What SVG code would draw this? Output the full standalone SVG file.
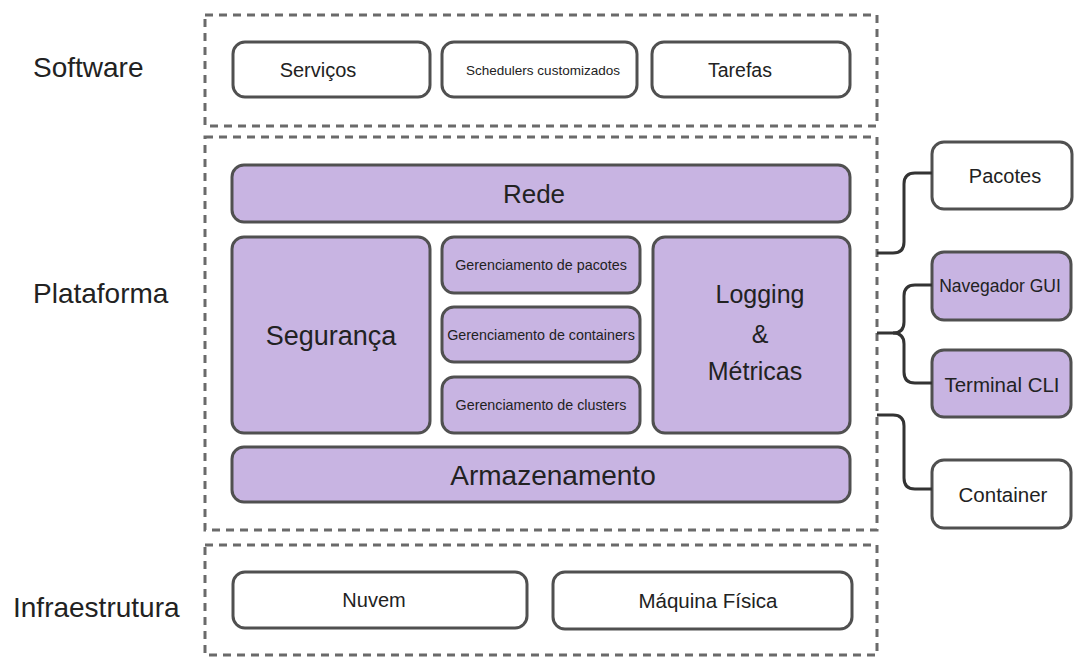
<svg xmlns="http://www.w3.org/2000/svg" width="1078" height="658" viewBox="0 0 1078 658">
<style>
.bg{fill:#ffffff}
.layer{fill:none;stroke:#6a6a6a;stroke-width:3;stroke-dasharray:8 6}
.w{fill:#ffffff;stroke:#505050;stroke-width:3}
.p{fill:#c8b4e2;stroke:#505050;stroke-width:3}
text{font-family:"Liberation Sans",Arial,sans-serif;fill:#222;text-anchor:middle;dominant-baseline:central}
.lbl{text-anchor:start;dominant-baseline:alphabetic;font-size:28px}
.conn{fill:none;stroke:#333;stroke-width:3;stroke-linejoin:round}
</style>
<rect class="bg" x="0" y="0" width="1078" height="658"/>
<g id="layers">
<rect class="layer" x="205" y="15" width="672" height="111"/>
<rect class="layer" x="205" y="137" width="672" height="393"/>
<rect class="layer" x="205" y="545" width="672" height="110"/>
</g>
<g id="labels">
<text class="lbl" x="33" y="77">Software</text>
<text class="lbl" x="33" y="303">Plataforma</text>
<text class="lbl" x="13" y="617">Infraestrutura</text>
</g>
<g id="servicos"><rect class="w" x="233" y="42" width="197" height="55" rx="12"/><text x="318" y="70" font-size="20">Serviços</text></g>
<g id="schedulers"><rect class="w" x="442" y="42" width="195" height="55" rx="12"/><text x="543" y="70" font-size="13.5">Schedulers customizados</text></g>
<g id="tarefas"><rect class="w" x="652" y="42" width="198" height="55" rx="12"/><text x="740" y="70" font-size="19.5">Tarefas</text></g>
<g id="rede"><rect class="p" x="232" y="165" width="618" height="57" rx="12"/><text x="534" y="194" font-size="26">Rede</text></g>
<g id="seguranca"><rect class="p" x="232" y="237" width="198" height="196" rx="12"/><text x="331" y="336" font-size="27">Segurança</text></g>
<g id="ger-pacotes"><rect class="p" x="442" y="237" width="198" height="56" rx="12"/><text x="541" y="265" font-size="14.3">Gerenciamento de pacotes</text></g>
<g id="ger-containers"><rect class="p" x="442" y="307" width="198" height="55" rx="12"/><text x="541" y="335" font-size="14.3">Gerenciamento de containers</text></g>
<g id="ger-clusters"><rect class="p" x="442" y="377" width="198" height="56" rx="12"/><text x="541" y="405" font-size="14.3">Gerenciamento de clusters</text></g>
<g id="logging"><rect class="p" x="653" y="237" width="197" height="196" rx="12"/>
<text x="760" y="303" font-size="25" style="dominant-baseline:alphabetic">Logging</text>
<text x="760" y="343" font-size="25" style="dominant-baseline:alphabetic">&amp;</text>
<text x="755" y="380" font-size="25" style="dominant-baseline:alphabetic">Métricas</text></g>
<g id="armazenamento"><rect class="p" x="232" y="447" width="618" height="55" rx="12"/><text x="553" y="475" font-size="28">Armazenamento</text></g>
<g id="nuvem"><rect class="w" x="233" y="572" width="294" height="56" rx="12"/><text x="374" y="600" font-size="20">Nuvem</text></g>
<g id="maquina"><rect class="w" x="553" y="572" width="299" height="57" rx="12"/><text x="708" y="600" font-size="20.5">Máquina Física</text></g>
<g id="pacotes"><rect class="w" x="932" y="142" width="140" height="67" rx="12"/><text x="1005" y="176" font-size="20">Pacotes</text></g>
<g id="navegador"><rect class="p" x="932" y="252" width="139" height="68" rx="12"/><text x="1000" y="286" font-size="17.5">Navegador GUI</text></g>
<g id="terminal"><rect class="p" x="932" y="350" width="139" height="67" rx="12"/><text x="1002" y="384" font-size="20.5">Terminal CLI</text></g>
<g id="container"><rect class="w" x="932" y="460" width="139" height="68" rx="12"/><text x="1003" y="494" font-size="20.5">Container</text></g>
<g id="connectors">
<path class="conn" d="M877 253 H893 Q904 253 904 242 V184 Q904 173 915 173 H932"/>
<path class="conn" d="M877 333 H893 Q904 333 904 322 V296 Q904 285 915 285 H932"/>
<path class="conn" d="M893 333 Q904 333 904 344 V372 Q904 383 915 383 H932"/>
<path class="conn" d="M877 415 H893 Q904 415 904 426 V478 Q904 489 915 489 H932"/>
</g>
</svg>
